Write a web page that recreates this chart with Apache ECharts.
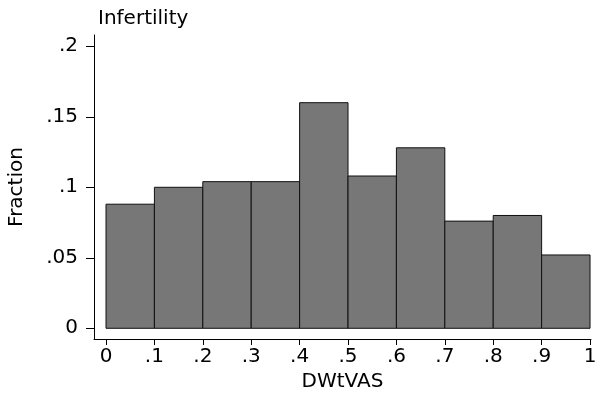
<!DOCTYPE html>
<html>
<head>
<meta charset="utf-8">
<script src="https://cdn.jsdelivr.net/npm/echarts@6/dist/echarts.min.js"></script>
<style>html,body{margin:0;padding:0;background:#fff}#c{width:596px;height:394px}</style>
</head>
<body>
<div id="c"></div>
<script>
var binStarts = [0, 0.1, 0.2, 0.3, 0.4, 0.5, 0.6, 0.7, 0.8, 0.9];
var binWidth = 0.1;
var fractions = [0.088, 0.1, 0.104, 0.104, 0.16, 0.108, 0.128, 0.076, 0.08, 0.052];
var yTickValues = [0, 0.05, 0.1, 0.15, 0.2];
var yTickLabels = ['0', '.05', '.1', '.15', '.2'];
var xTickValues = [0, 0.1, 0.2, 0.3, 0.4, 0.5, 0.6, 0.7, 0.8, 0.9, 1];
var xTickLabels = ['0', '.1', '.2', '.3', '.4', '.5', '.6', '.7', '.8', '.9', '1'];

var FONT = 'DejaVu Sans';
var chart = echarts.init(document.getElementById('c'), null, {renderer: 'canvas'});
var data = binStarts.map(function (s, i) { return [s, s + binWidth, fractions[i]]; });

function labelFor(values, labels) {
  return function (v) {
    for (var i = 0; i < values.length; i++) if (Math.abs(values[i] - v) < 1e-9) return labels[i];
    return '';
  };
}

chart.setOption({
  animation: false,
  title: {
    text: 'Infertility', left: 93, top: 4,
    textStyle: {fontFamily: FONT, fontSize: 20, fontWeight: 'normal', color: '#000'}
  },
  grid: {left: 94, right: 5, top: 35, bottom: 55, containLabel: false, outerBoundsMode: 'none'},
  xAxis: {
    type: 'value', min: -0.0248, max: 1.002,
    name: 'DWtVAS', nameLocation: 'middle', nameGap: 25,
    nameTextStyle: {fontFamily: FONT, fontSize: 20, color: '#000'},
    axisLine: {show: true, onZero: false, lineStyle: {color: '#000', width: 1}},
    axisTick: {show: true, length: 6, lineStyle: {color: '#000'}, customValues: xTickValues},
    axisLabel: {show: true, margin: 8, fontFamily: FONT, fontSize: 20, color: '#000',
      hideOverlap: false, showMinLabel: true, showMaxLabel: true,
      customValues: xTickValues, formatter: labelFor(xTickValues, xTickLabels)},
    splitLine: {show: false}
  },
  yAxis: {
    type: 'value', min: -0.0076, max: 0.208,
    name: 'Fraction', nameLocation: 'middle', nameGap: 67, nameRotate: 90,
    nameTextStyle: {fontFamily: FONT, fontSize: 20, color: '#000'},
    axisLine: {show: true, onZero: false, lineStyle: {color: '#000', width: 1}},
    axisTick: {show: true, length: 8, lineStyle: {color: '#000'}, customValues: yTickValues},
    axisLabel: {show: true, margin: 16, fontFamily: FONT, fontSize: 20, color: '#000',
      customValues: yTickValues, formatter: labelFor(yTickValues, yTickLabels)},
    splitLine: {show: false}
  },
  series: [{
    type: 'custom',
    data: data,
    encode: {x: [0, 1], y: 2},
    renderItem: function (params, api) {
      var p0 = api.coord([api.value(0), api.value(2)]);
      var p1 = api.coord([api.value(1), 0]);
      return {
        type: 'rect',
        shape: {x: p0[0], y: p0[1], width: p1[0] - p0[0], height: p1[1] - p0[1]},
        style: {fill: '#777777', stroke: '#111111', lineWidth: 1}
      };
    }
  }]
});
</script>
</body>
</html>
